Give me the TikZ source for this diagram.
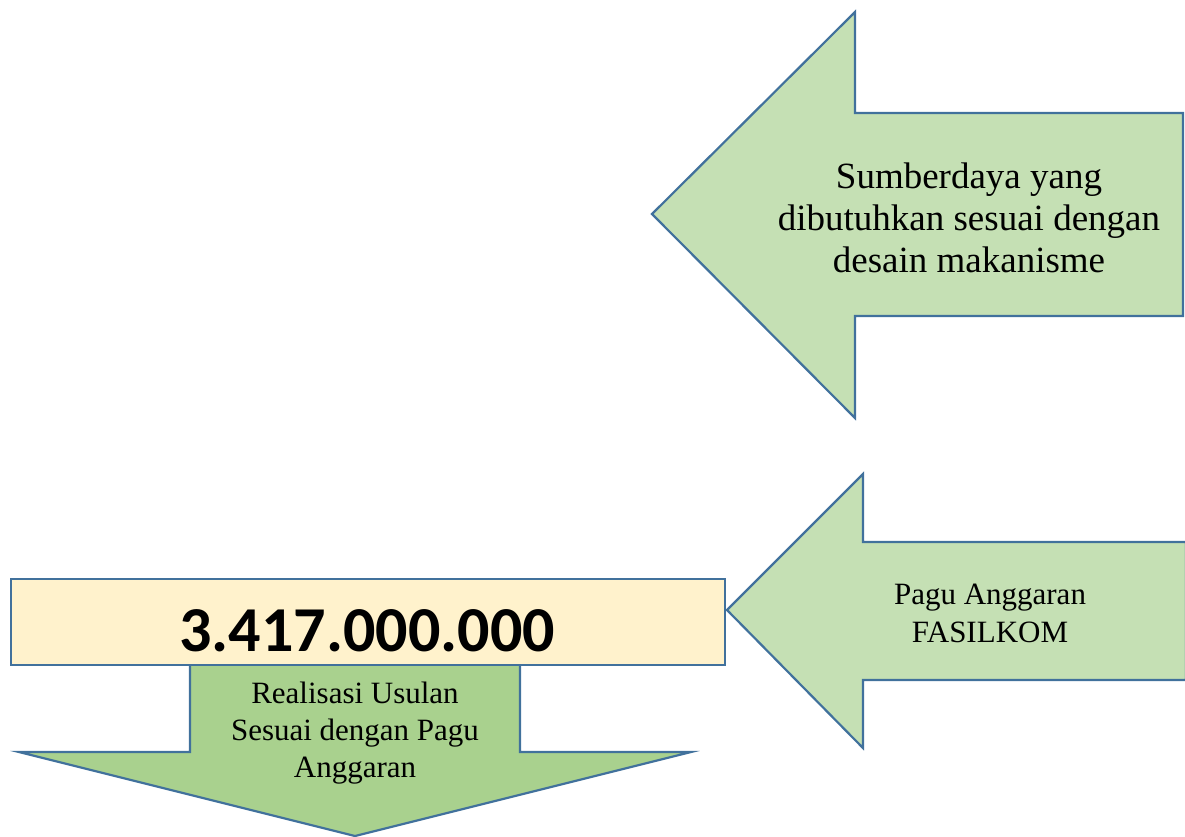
\documentclass[tikz,border=0pt]{standalone}
\usepackage{fontspec}
\setmainfont{Liberation Serif}
\newfontfamily\numfont{Carlito}
\definecolor{edgeblue}{HTML}{41719C}
\definecolor{lightgreen}{HTML}{C5E0B4}
\definecolor{midgreen}{HTML}{A9D18E}
\definecolor{paleyellow}{HTML}{FFF2CC}
\begin{document}
\begin{tikzpicture}[x=1pt,y=-1pt,
  shapeline/.style={draw=edgeblue,line width=2.2pt,line join=miter},
  arrowtext/.style={align=center,inner sep=0pt,text=black}]
\useasboundingbox (0,0) rectangle (1185,836);
% top arrow
\draw[shapeline,fill=lightgreen] (652,214) -- (855,12) -- (855,113) -- (1183,113)
  -- (1183,316) -- (855,316) -- (855,418) -- cycle;
\node[arrowtext,font=\fontsize{37}{42}\selectfont] (topText) at (969,218)
  {Sumberdaya yang\\dibutuhkan sesuai dengan\\desain makanisme};
% middle arrow
\draw[shapeline,fill=lightgreen] (727,610) -- (863,474) -- (863,542) -- (1186,542)
  -- (1186,680) -- (863,680) -- (863,748) -- cycle;
\node[arrowtext,font=\fontsize{31}{37.5}\selectfont] (paguText) at (990,613.5)
  {Pagu Anggaran\\FASILKOM};
% down arrow
\draw[shapeline,fill=midgreen] (190,664) -- (520,664) -- (520,752) -- (691,752)
  -- (355,836) -- (19,752) -- (190,752) -- cycle;
\node[arrowtext,font=\fontsize{31}{37}\selectfont] (realText) at (355,733)
  {Realisasi Usulan\\Sesuai dengan Pagu\\Anggaran};
% yellow box
\node[shapeline,fill=paleyellow,minimum width=714pt,minimum height=86pt,inner sep=0pt,
  anchor=north west] (box) at (10,578) {};
\node[anchor=base,inner sep=0pt,font=\numfont\bfseries\fontsize{64}{70}\selectfont]
  (amount) at (367,651) {3.417.000.000};
\end{tikzpicture}
\end{document}
